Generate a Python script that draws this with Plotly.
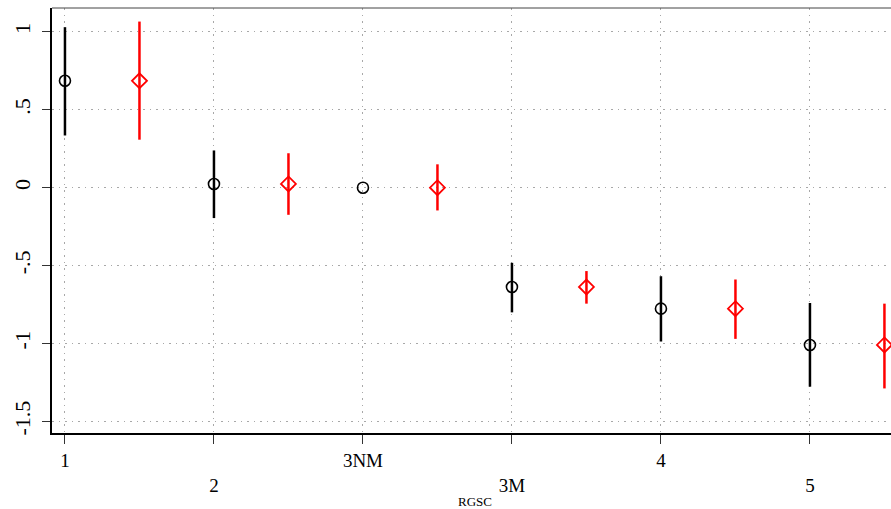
import plotly.graph_objects as go

categories = ["1", "2", "3NM", "3M", "4", "5"]
estimate = [0.686, 0.024, 0.0, -0.637, -0.776, -1.009]
black_lo = [0.335, -0.195, 0.0, -0.800, -0.987, -1.277]
black_hi = [1.030, 0.239, 0.0, -0.482, -0.568, -0.740]
red_lo = [0.308, -0.174, -0.146, -0.744, -0.970, -1.288]
red_hi = [1.066, 0.221, 0.150, -0.535, -0.589, -0.744]
ytick_vals = [1, 0.5, 0, -0.5, -1, -1.5]
ytick_text = ["1", ".5", "0", "-.5", "-1", "-1.5"]

pos = [i + 1 for i in range(len(categories))]
pos_red = [p + 0.5 for p in pos]

font_family = "Liberation Serif, DejaVu Serif, serif"

fig = go.Figure()
fig.add_trace(go.Scatter(
    x=pos, y=estimate, mode="markers",
    marker=dict(symbol="circle-open", size=11, color="black", line=dict(width=1.6, color="black")),
    error_y=dict(type="data", symmetric=False,
                 array=[h - e for h, e in zip(black_hi, estimate)],
                 arrayminus=[e - l for e, l in zip(estimate, black_lo)],
                 color="black", thickness=2.5, width=0),
    showlegend=False, cliponaxis=True, hoverinfo="skip",
))
fig.add_trace(go.Scatter(
    x=pos_red, y=estimate, mode="markers",
    marker=dict(symbol="diamond-open", size=11.5, color="red", line=dict(width=1.8, color="red")),
    error_y=dict(type="data", symmetric=False,
                 array=[h - e for h, e in zip(red_hi, estimate)],
                 arrayminus=[e - l for e, l in zip(estimate, red_lo)],
                 color="red", thickness=2.5, width=0),
    showlegend=False, cliponaxis=True, hoverinfo="skip",
))

xtick_text = [c if i % 2 == 0 else "<br>" + c for i, c in enumerate(categories)]

grid_dash = "1.5px,5px"

fig.update_layout(
    width=891, height=509,
    margin=dict(l=52, r=0, t=8, b=76, autoexpand=False),
    paper_bgcolor="white", plot_bgcolor="white",
    font=dict(family=font_family, color="black", size=19),
    xaxis=dict(
        range=[0.913, 6.544], tickmode="array", tickvals=pos, ticktext=xtick_text,
        showgrid=True, gridcolor="#a8a8a8", griddash=grid_dash, gridwidth=1,
        showline=True, linecolor="black", linewidth=2.4,
        ticks="outside", ticklen=9, tickwidth=1.2, tickcolor="#333333",
        zeroline=False, tickfont=dict(size=19), automargin=False,
    ),
    yaxis=dict(
        range=[-1.574, 1.153], tickmode="array", tickvals=ytick_vals, ticktext=ytick_text,
        tickangle=-90,
        showgrid=True, gridcolor="#a8a8a8", griddash=grid_dash, gridwidth=1,
        showline=True, linecolor="black", linewidth=2.4,
        ticks="outside", ticklen=8, tickwidth=1.2, tickcolor="#333333",
        zeroline=False, tickfont=dict(size=22), automargin=False,
        ticklabelstandoff=3,
    ),
    shapes=[dict(type="line", xref="paper", yref="paper", x0=0, x1=1, y0=1, y1=1,
                 line=dict(color="#444444", width=1))],
    annotations=[dict(text="RGSC", xref="paper", yref="paper", x=0.504, y=-0.162,
                      showarrow=False, font=dict(size=13, family=font_family),
                      xanchor="center", yanchor="middle")],
)

fig.write_html(
    "out.html",
    config={"displayModeBar": False},
    post_script="document.body.style.margin='0';document.body.style.overflow='hidden';",
)
